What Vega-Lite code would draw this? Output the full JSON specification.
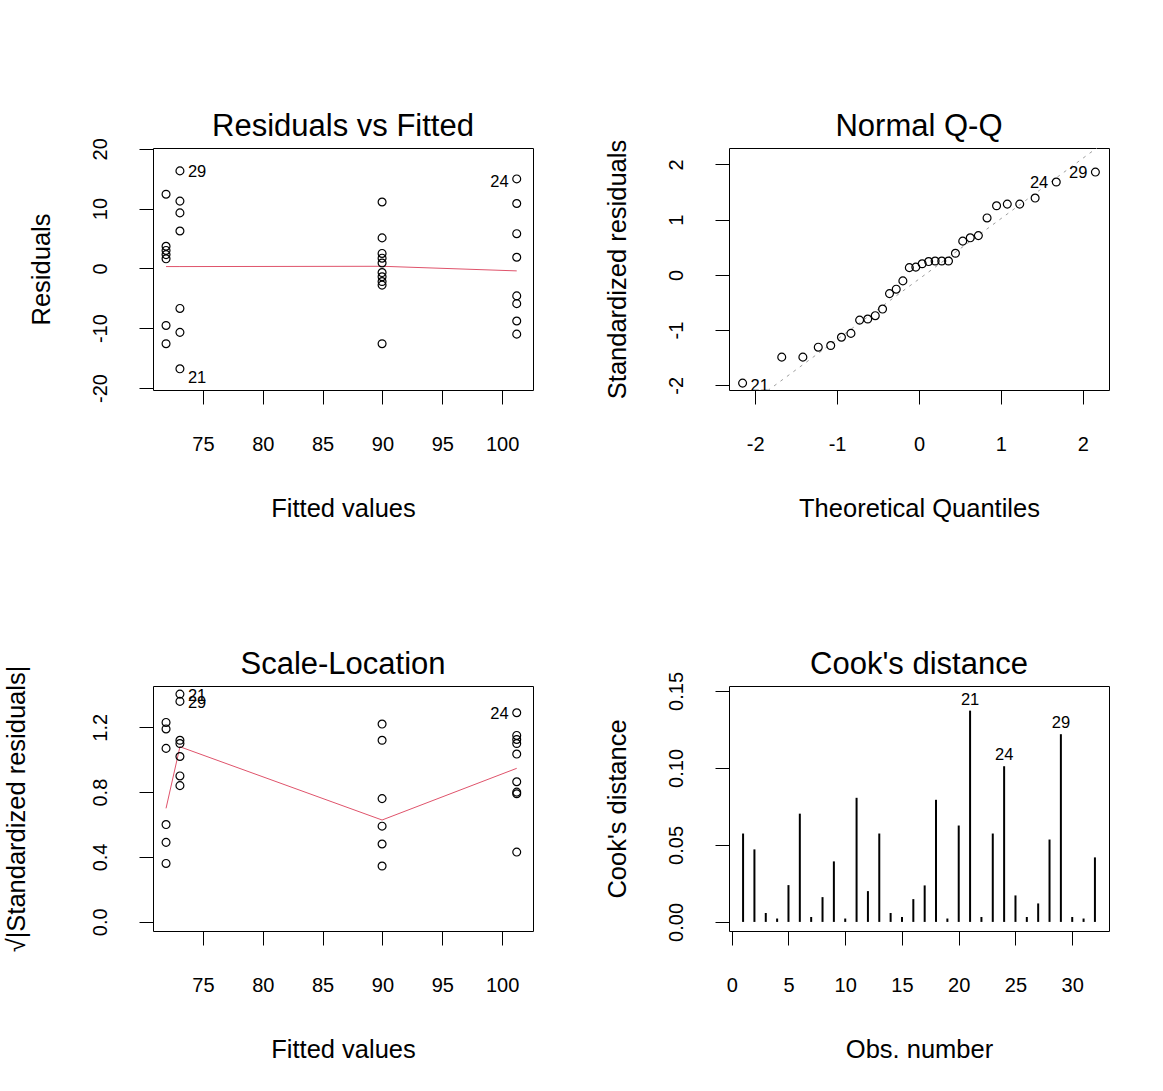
{
  "$schema": "https://vega.github.io/schema/vega-lite/v6.json",
  "background": "white",
  "padding": {"left": 3, "top": 110, "right": 5, "bottom": 5},
  "autosize": {"type": "pad"},
  "config": {
    "font": "Liberation Sans",
    "view": {"stroke": "black", "strokeWidth": 1},
    "axis": {
      "domain": false, "grid": false, "tickColor": "black", "tickWidth": 1, "tickSize": 14,
      "labelFont": "Liberation Sans", "labelFontSize": 20, "labelColor": "black",
      "titleFont": "Liberation Sans", "titleFontSize": 25.5, "titleFontWeight": "normal", "titleColor": "black"
    },
    "axisX": {"labelPadding": 30, "labelBaseline": "top", "titlePadding": 42, "labelFlush": false, "labelOverlap": false},
    "axisY": {"labelPadding": 29, "labelAngle": 270, "labelAlign": "center", "labelBaseline": "bottom", "titlePadding": 36, "labelOverlap": false},
    "title": {"font": "Liberation Sans", "fontSize": 31, "fontWeight": "normal", "color": "black", "offset": -5, "anchor": "middle", "frame": "group"},
    "text": {"font": "Liberation Sans", "fontSize": 16.5, "color": "black"}
  },
  "datasets": {
    "rvf": [
      {"f": 71.92, "r": 12.4, "id": ""}, {"f": 71.92, "r": 3.7, "id": ""}, {"f": 71.92, "r": 3.0, "id": ""}, {"f": 71.92, "r": 2.3, "id": ""}, {"f": 71.92, "r": 1.6, "id": ""}, {"f": 71.92, "r": -9.55, "id": ""}, {"f": 71.92, "r": -12.6, "id": ""},
      {"f": 73.08, "r": 16.3, "id": "29"}, {"f": 73.08, "r": 11.25, "id": ""}, {"f": 73.08, "r": 9.28, "id": ""}, {"f": 73.08, "r": 6.25, "id": ""}, {"f": 73.08, "r": -6.7, "id": ""}, {"f": 73.08, "r": -10.7, "id": ""}, {"f": 73.08, "r": -16.8, "id": "21"},
      {"f": 89.97, "r": 11.1, "id": ""}, {"f": 89.97, "r": 5.1, "id": ""}, {"f": 89.97, "r": 2.5, "id": ""}, {"f": 89.97, "r": 1.7, "id": ""}, {"f": 89.97, "r": 0.9, "id": ""}, {"f": 89.97, "r": -0.7, "id": ""}, {"f": 89.97, "r": -1.4, "id": ""}, {"f": 89.97, "r": -2.2, "id": ""}, {"f": 89.97, "r": -2.8, "id": ""}, {"f": 89.97, "r": -12.6, "id": ""},
      {"f": 101.22, "r": 14.96, "id": "24"}, {"f": 101.22, "r": 10.85, "id": ""}, {"f": 101.22, "r": 5.8, "id": ""}, {"f": 101.22, "r": 1.86, "id": ""}, {"f": 101.22, "r": -4.6, "id": ""}, {"f": 101.22, "r": -5.9, "id": ""}, {"f": 101.22, "r": -8.8, "id": ""}, {"f": 101.22, "r": -11.0, "id": ""}
    ],
    "rvf_lo": [
      {"f": 71.92, "r": 0.3}, {"f": 73.08, "r": 0.3}, {"f": 89.97, "r": 0.35}, {"f": 101.22, "r": -0.42}
    ],
    "qq": [
      {"t": -2.154, "s": -1.96, "id": "21"}, {"t": -1.676, "s": -1.49, "id": ""}, {"t": -1.418, "s": -1.49, "id": ""}, {"t": -1.230, "s": -1.31, "id": ""},
      {"t": -1.078, "s": -1.28, "id": ""}, {"t": -0.947, "s": -1.13, "id": ""}, {"t": -0.831, "s": -1.06, "id": ""}, {"t": -0.725, "s": -0.82, "id": ""},
      {"t": -0.626, "s": -0.80, "id": ""}, {"t": -0.534, "s": -0.74, "id": ""}, {"t": -0.445, "s": -0.62, "id": ""}, {"t": -0.360, "s": -0.34, "id": ""},
      {"t": -0.278, "s": -0.26, "id": ""}, {"t": -0.197, "s": -0.11, "id": ""}, {"t": -0.118, "s": 0.13, "id": ""}, {"t": -0.039, "s": 0.14, "id": ""},
      {"t": 0.039, "s": 0.20, "id": ""}, {"t": 0.118, "s": 0.24, "id": ""}, {"t": 0.197, "s": 0.25, "id": ""}, {"t": 0.278, "s": 0.25, "id": ""},
      {"t": 0.360, "s": 0.25, "id": ""}, {"t": 0.445, "s": 0.39, "id": ""}, {"t": 0.534, "s": 0.61, "id": ""}, {"t": 0.626, "s": 0.67, "id": ""},
      {"t": 0.725, "s": 0.71, "id": ""}, {"t": 0.831, "s": 1.03, "id": ""}, {"t": 0.947, "s": 1.25, "id": ""}, {"t": 1.078, "s": 1.28, "id": ""},
      {"t": 1.230, "s": 1.28, "id": ""}, {"t": 1.418, "s": 1.39, "id": ""}, {"t": 1.676, "s": 1.68, "id": "24"}, {"t": 2.154, "s": 1.86, "id": "29"}
    ],
    "qqline": [
      {"t": -2.32, "s": -2.613}, {"t": 2.32, "s": 2.459}
    ],
    "sl": [
      {"f": 71.92, "s": 1.23, "id": ""}, {"f": 71.92, "s": 1.19, "id": ""}, {"f": 71.92, "s": 1.07, "id": ""}, {"f": 71.92, "s": 0.60, "id": ""}, {"f": 71.92, "s": 0.49, "id": ""}, {"f": 71.92, "s": 0.36, "id": ""},
      {"f": 73.08, "s": 1.405, "id": "21"}, {"f": 73.08, "s": 1.36, "id": "29"}, {"f": 73.08, "s": 1.12, "id": ""}, {"f": 73.08, "s": 1.10, "id": ""}, {"f": 73.08, "s": 1.02, "id": ""}, {"f": 73.08, "s": 0.90, "id": ""}, {"f": 73.08, "s": 0.84, "id": ""},
      {"f": 89.97, "s": 1.22, "id": ""}, {"f": 89.97, "s": 1.12, "id": ""}, {"f": 89.97, "s": 0.76, "id": ""}, {"f": 89.97, "s": 0.59, "id": ""}, {"f": 89.97, "s": 0.48, "id": ""}, {"f": 89.97, "s": 0.344, "id": ""},
      {"f": 101.22, "s": 1.29, "id": "24"}, {"f": 101.22, "s": 1.15, "id": ""}, {"f": 101.22, "s": 1.125, "id": ""}, {"f": 101.22, "s": 1.10, "id": ""}, {"f": 101.22, "s": 1.035, "id": ""}, {"f": 101.22, "s": 0.864, "id": ""}, {"f": 101.22, "s": 0.80, "id": ""}, {"f": 101.22, "s": 0.79, "id": ""}, {"f": 101.22, "s": 0.43, "id": ""}
    ],
    "sl_lo": [
      {"f": 71.92, "s": 0.70}, {"f": 73.08, "s": 1.08}, {"f": 89.97, "s": 0.628}, {"f": 101.22, "s": 0.947}
    ],
    "cook": [
      {"obs": 1, "d": 0.0574, "id": ""}, {"obs": 2, "d": 0.0471, "id": ""}, {"obs": 3, "d": 0.0058, "id": ""}, {"obs": 4, "d": 0.0022, "id": ""},
      {"obs": 5, "d": 0.0239, "id": ""}, {"obs": 6, "d": 0.0703, "id": ""}, {"obs": 7, "d": 0.0032, "id": ""}, {"obs": 8, "d": 0.0161, "id": ""},
      {"obs": 9, "d": 0.0393, "id": ""}, {"obs": 10, "d": 0.0022, "id": ""}, {"obs": 11, "d": 0.0806, "id": ""}, {"obs": 12, "d": 0.0200, "id": ""},
      {"obs": 13, "d": 0.0574, "id": ""}, {"obs": 14, "d": 0.0058, "id": ""}, {"obs": 15, "d": 0.0032, "id": ""}, {"obs": 16, "d": 0.0148, "id": ""},
      {"obs": 17, "d": 0.0237, "id": ""}, {"obs": 18, "d": 0.0793, "id": ""}, {"obs": 19, "d": 0.0022, "id": ""}, {"obs": 20, "d": 0.0626, "id": ""},
      {"obs": 21, "d": 0.1372, "id": "21"}, {"obs": 22, "d": 0.0032, "id": ""}, {"obs": 23, "d": 0.0574, "id": ""}, {"obs": 24, "d": 0.1011, "id": "24"},
      {"obs": 25, "d": 0.0172, "id": ""}, {"obs": 26, "d": 0.0032, "id": ""}, {"obs": 27, "d": 0.0120, "id": ""}, {"obs": 28, "d": 0.0535, "id": ""},
      {"obs": 29, "d": 0.1219, "id": "29"}, {"obs": 30, "d": 0.0032, "id": ""}, {"obs": 31, "d": 0.0022, "id": ""}, {"obs": 32, "d": 0.0419, "id": ""}
    ]
  },
  "columns": 2,
  "spacing": {"row": 296, "column": 196},
  "bounds": "flush",
  "concat": [
    {
      "width": 380, "height": 242,
      "title": {"text": "Residuals vs Fitted", "offset": -5},
      "layer": [
        {
          "mark": {"type": "rule", "color": "#BEBEBE", "strokeDash": [3, 4], "strokeWidth": 1},
          "encoding": {"y": {"datum": 0, "type": "quantitative", "scale": {"domain": [-20.34, 20.13], "nice": false, "zero": false}}}
        },
        {
          "data": {"name": "rvf_lo"},
          "mark": {"type": "line", "color": "#DF536B", "strokeWidth": 1, "clip": true},
          "encoding": {
            "x": {"field": "f", "type": "quantitative", "scale": {"domain": [70.83, 102.58], "nice": false, "zero": false}},
            "y": {"field": "r", "type": "quantitative", "scale": {"domain": [-20.34, 20.13], "nice": false, "zero": false}}
          }
        },
        {
          "data": {"name": "rvf"},
          "mark": {"type": "point", "shape": "circle", "filled": false, "color": "black", "size": 62, "strokeWidth": 1.2, "opacity": 1},
          "encoding": {
            "x": {"field": "f", "type": "quantitative", "scale": {"domain": [70.83, 102.58], "nice": false, "zero": false},
                  "axis": {"values": [75, 80, 85, 90, 95, 100], "title": "Fitted values"}},
            "y": {"field": "r", "type": "quantitative", "scale": {"domain": [-20.34, 20.13], "nice": false, "zero": false},
                  "axis": {"values": [-20, -10, 0, 10, 20], "title": "Residuals", "labelExpr": "replace(datum.label, '\u2212', '-')"}}
          }
        },
        {
          "data": {"name": "rvf"},
          "transform": [{"filter": "datum.id == '29'"}],
          "mark": {"type": "text", "align": "left", "dx": 8, "dy": 1},
          "encoding": {
            "x": {"field": "f", "type": "quantitative"},
            "y": {"field": "r", "type": "quantitative"},
            "text": {"field": "id"}
          }
        },
        {
          "data": {"name": "rvf"},
          "transform": [{"filter": "datum.id == '21'"}],
          "mark": {"type": "text", "align": "left", "dx": 8, "dy": 9},
          "encoding": {
            "x": {"field": "f", "type": "quantitative"},
            "y": {"field": "r", "type": "quantitative"},
            "text": {"field": "id"}
          }
        },
        {
          "data": {"name": "rvf"},
          "transform": [{"filter": "datum.id == '24'"}],
          "mark": {"type": "text", "align": "right", "dx": -8, "dy": 3},
          "encoding": {
            "x": {"field": "f", "type": "quantitative"},
            "y": {"field": "r", "type": "quantitative"},
            "text": {"field": "id"}
          }
        }
      ]
    },
    {
      "width": 380, "height": 242,
      "title": {"text": "Normal Q-Q", "offset": -4},
      "layer": [
        {
          "data": {"name": "qqline"},
          "mark": {"type": "line", "color": "#9E9E9E", "strokeDash": [3, 5], "strokeWidth": 1, "clip": true},
          "encoding": {
            "x": {"field": "t", "type": "quantitative", "scale": {"domain": [-2.32, 2.32], "nice": false, "zero": false}},
            "y": {"field": "s", "type": "quantitative", "scale": {"domain": [-2.085, 2.296], "nice": false, "zero": false}}
          }
        },
        {
          "data": {"name": "qq"},
          "mark": {"type": "point", "shape": "circle", "filled": false, "color": "black", "size": 62, "strokeWidth": 1.2, "opacity": 1},
          "encoding": {
            "x": {"field": "t", "type": "quantitative", "scale": {"domain": [-2.32, 2.32], "nice": false, "zero": false},
                  "axis": {"values": [-2, -1, 0, 1, 2], "format": "d", "title": "Theoretical Quantiles", "labelExpr": "replace(datum.label, '\u2212', '-')"}},
            "y": {"field": "s", "type": "quantitative", "scale": {"domain": [-2.085, 2.296], "nice": false, "zero": false},
                  "axis": {"values": [-2, -1, 0, 1, 2], "format": "d", "title": "Standardized residuals", "labelExpr": "replace(datum.label, '\u2212', '-')"}}
          }
        },
        {
          "data": {"name": "qq"},
          "transform": [{"filter": "datum.id == '21'"}],
          "mark": {"type": "text", "align": "left", "dx": 8, "dy": 3},
          "encoding": {
            "x": {"field": "t", "type": "quantitative"},
            "y": {"field": "s", "type": "quantitative"},
            "text": {"field": "id"}
          }
        },
        {
          "data": {"name": "qq"},
          "transform": [{"filter": "datum.id == '24' || datum.id == '29'"}],
          "mark": {"type": "text", "align": "right", "dx": -8, "dy": 1},
          "encoding": {
            "x": {"field": "t", "type": "quantitative"},
            "y": {"field": "s", "type": "quantitative"},
            "text": {"field": "id"}
          }
        }
      ]
    },
    {
      "width": 380, "height": 245,
      "title": {"text": "Scale-Location", "offset": -16},
      "layer": [
        {
          "data": {"name": "sl_lo"},
          "mark": {"type": "line", "color": "#DF536B", "strokeWidth": 1, "clip": true},
          "encoding": {
            "x": {"field": "f", "type": "quantitative", "scale": {"domain": [70.83, 102.58], "nice": false, "zero": false}},
            "y": {"field": "s", "type": "quantitative", "scale": {"domain": [-0.057, 1.455], "nice": false, "zero": false}}
          }
        },
        {
          "data": {"name": "sl"},
          "mark": {"type": "point", "shape": "circle", "filled": false, "color": "black", "size": 62, "strokeWidth": 1.2, "opacity": 1},
          "encoding": {
            "x": {"field": "f", "type": "quantitative", "scale": {"domain": [70.83, 102.58], "nice": false, "zero": false},
                  "axis": {"values": [75, 80, 85, 90, 95, 100], "title": "Fitted values"}},
            "y": {"field": "s", "type": "quantitative", "scale": {"domain": [-0.057, 1.455], "nice": false, "zero": false},
                  "axis": {"values": [0, 0.2, 0.4, 0.6, 0.8, 1.0, 1.2, 1.4], "title": "\u221a|Standardized residuals|", "titlePadding": 61,
                           "labelExpr": "round(datum.value * 10) % 4 == 0 ? format(datum.value, '.1f') : ''"}}
          }
        },
        {
          "data": {"name": "sl"},
          "transform": [{"filter": "datum.id == '21' || datum.id == '29'"}],
          "mark": {"type": "text", "align": "left", "dx": 8, "dy": 2},
          "encoding": {
            "x": {"field": "f", "type": "quantitative"},
            "y": {"field": "s", "type": "quantitative"},
            "text": {"field": "id"}
          }
        },
        {
          "data": {"name": "sl"},
          "transform": [{"filter": "datum.id == '24'"}],
          "mark": {"type": "text", "align": "right", "dx": -8, "dy": 1},
          "encoding": {
            "x": {"field": "f", "type": "quantitative"},
            "y": {"field": "s", "type": "quantitative"},
            "text": {"field": "id"}
          }
        }
      ]
    },
    {
      "width": 380, "height": 245,
      "title": {"text": "Cook's distance", "offset": -10},
      "layer": [
        {
          "data": {"name": "cook"},
          "mark": {"type": "rule", "color": "black", "strokeWidth": 2},
          "encoding": {
            "x": {"field": "obs", "type": "quantitative", "scale": {"domain": [-0.24, 33.24], "nice": false, "zero": false},
                  "axis": {"values": [0, 5, 10, 15, 20, 25, 30], "title": "Obs. number"}},
            "y": {"field": "d", "type": "quantitative", "scale": {"domain": [-0.0059, 0.1532], "nice": false, "zero": false},
                  "axis": {"values": [0, 0.05, 0.1, 0.15], "format": ".2f", "title": "Cook's distance"}},
            "y2": {"datum": 0}
          }
        },
        {
          "data": {"name": "cook"},
          "transform": [{"filter": "datum.id != ''"}],
          "mark": {"type": "text", "align": "center", "baseline": "bottom", "dy": -3},
          "encoding": {
            "x": {"field": "obs", "type": "quantitative"},
            "y": {"field": "d", "type": "quantitative"},
            "text": {"field": "id"}
          }
        }
      ]
    }
  ]
}
